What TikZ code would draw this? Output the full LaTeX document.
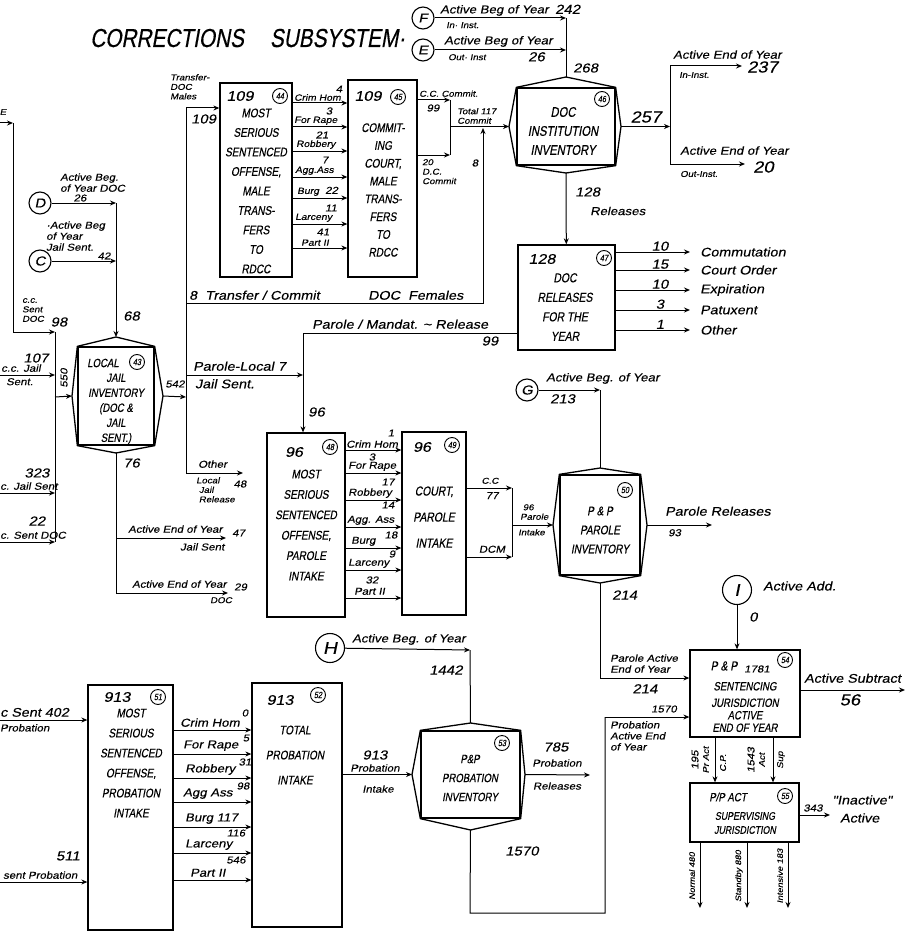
\documentclass[tikz,border=0pt]{standalone}
\usepackage{fontspec}
\setmainfont{Liberation Sans}
\newfontfamily\hand[FakeSlant=0.18,FakeStretch=0.8,FakeBold=0.4]{Liberation Sans}
\newfontfamily\handl[FakeSlant=0.2,FakeStretch=1.15,FakeBold=0.3]{Liberation Sans}
\usetikzlibrary{arrows.meta,fit}
\tikzset{
 ln/.style={line width=1pt},
 arr/.style={line width=1pt,-{Stealth[length=6pt,width=5pt]}},
 bx/.style={draw,line width=1.3pt,inner sep=0pt},
 tag/.style={circle,draw,line width=0.9pt,inner sep=0pt,minimum size=15pt,font=\hand\fontsize{9}{9}\selectfont},
 conn/.style={circle,draw,line width=1.1pt,inner sep=0pt,minimum size=22pt,font=\handl\fontsize{13}{13}\selectfont},
 bigconn/.style={conn,minimum size=29pt,font=\handl\fontsize{17}{17}\selectfont},
 btx/.style={align=center,inner sep=0pt,font=\hand\fontsize{12.5}{19.5}\selectfont},
 slab/.style={inner sep=0pt,align=left,font=\handl\fontsize{8.5}{9.5}\selectfont},
 tlab/.style={inner sep=0pt,font=\handl\fontsize{8}{9}\selectfont},
 qlab/.style={inner sep=0pt,font=\handl\fontsize{9}{10}\selectfont},
 mlab/.style={inner sep=0pt,align=left,font=\handl\fontsize{10}{11}\selectfont},
 lab/.style={inner sep=0pt,align=left,font=\handl\fontsize{11.5}{12.5}\selectfont},
 rlab/.style={inner sep=0pt,font=\handl\fontsize{12.5}{13.5}\selectfont},
 ulab/.style={inner sep=0pt,font=\handl\fontsize{11.5}{12.5}\selectfont},
 snum/.style={inner sep=0pt,font=\handl\fontsize{10}{10}\selectfont},
 num/.style={inner sep=0pt,font=\handl\fontsize{13}{13}\selectfont},
 bnum/.style={inner sep=0pt,font=\handl\fontsize{14}{14}\selectfont},
 hnum/.style={inner sep=0pt,font=\handl\fontsize{16}{16}\selectfont},
}
\newcommand\mybox[5]{\node[bx,fit={(#2,#3)(#4,#5)}] (#1) {};}
\newcommand\invbox[9]{%
 \node[bx,fit={(#2,#3)(#4,#5)}] (#1) {};
 \coordinate (#1-t) at ({(#2+#4)/2},#6);
 \coordinate (#1-b) at ({(#2+#4)/2},#7);
 \coordinate (#1-l) at (#8,{(#3+#5)/2});
 \coordinate (#1-r) at (#9,{(#3+#5)/2});
 \draw[line width=1.3pt,line join=round] (#1.north west) -- (#1-t) -- (#1.north east) -- (#1-r) -- (#1.south east) -- (#1-b) -- (#1.south west) -- (#1-l) -- cycle;}
\begin{document}
\begin{tikzpicture}[x=1pt,y=-1pt]
\useasboundingbox (0,0) rectangle (918,931);
\fill[white] (0,0) rectangle (918,931);

% title
\node[anchor=base west,inner sep=0pt,font=\hand\fontsize{26}{26}\selectfont] (title) at (90,47) {CORRECTIONS\hspace{26pt}SUBSYSTEM\textperiodcentered};

% ---------- F, E and DOC institution inventory (46)
\node[conn] (F) at (423,18) {F};
\node[conn] (E) at (423,50) {E};
\coordinate (jF) at (566,18);
\coordinate (jE) at (566,50);
\draw[arr] (F) -- (jF);
\draw[arr] (E) -- (jE);
\node[lab,anchor=south west] (tF1) at (440,16) {Active Beg of Year};
\node[num,anchor=south west] (tF2) at (555,14) {242};
\node[slab,anchor=north west] (tF3) at (446,22) {In\textperiodcentered\ Inst.};
\node[lab,anchor=south west] (tE1) at (444,47) {Active Beg of Year};
\node[slab,anchor=north west] (tE2) at (448,54) {Out\textperiodcentered\ Inst};
\node[num,anchor=north west] (tE3) at (528,52) {26};

\invbox{h46}{517}{88}{615}{165}{77}{173}{509}{621}
\draw[ln] (jF) -- (h46-t);
\node[num,anchor=west] (t268) at (573,68) {268};
\node[tag] (g46) at (602,99) {46};
\node[btx,font=\hand\fontsize{14}{19}\selectfont] (x46) at (563,131) {DOC\\INSTITUTION\\INVENTORY};

\coordinate (s46) at (670,126.5);
\coordinate (s46a) at (670,66);
\coordinate (s46b) at (670,164);
\coordinate (o237) at (742,66);
\coordinate (o20) at (745,164);
\draw[arr] (h46-r) -- (s46);
\draw[ln] (s46a) -- (s46b);
\draw[arr] (s46a) -- (o237);
\draw[arr] (s46b) -- (o20);
\node[hnum] (t257) at (646,117) {257};
\node[lab,anchor=south west] (t237a) at (673,59) {Active End of Year};
\node[slab,anchor=west] (t237b) at (679,75) {In-Inst.};
\node[hnum,anchor=west] (t237c) at (747,67) {237};
\node[lab,anchor=south west] (t20a) at (680,155) {Active End of Year};
\node[slab,anchor=west] (t20b) at (680,174) {Out-Inst.};
\node[hnum,anchor=west] (t20c) at (753,167) {20};

% ---------- DOC releases (47)
\mybox{b47}{518}{245}{615}{350}
\draw[arr] (h46-b) -- (b47);
\node[num,anchor=west] (t128a) at (575,192) {128};
\node[lab,anchor=west] (t128b) at (590,211) {Releases};
\node[bnum] (n47) at (542,259) {128};
\node[tag] (g47) at (604,258) {47};
\node[btx,font=\hand\fontsize{13}{19.5}\selectfont] (x47) at (565,307) {DOC\\RELEASES\\FOR THE\\YEAR};
\foreach \yy/\nn/\tt [count=\i] in {252/10/Commutation,270/15/Court Order,290/10/Expiration,310/3/Patuxent,330/1/Other}{
  \coordinate (r47-\i) at (690,\yy);
  \draw[arr] (b47.east |- r47-\i) -- (r47-\i);
  \node[num,anchor=south] (n47-\i) at (660,\yy-1) {\nn};
  \node[rlab,anchor=west] (t47-\i) at (700,\yy) {\tt};
}

% ---------- Box 44 and 45
\mybox{b44}{220}{83}{292}{277}
\mybox{b45}{348}{80}{417}{277}
\node[bnum] (n44) at (240,96) {109};
\node[tag] (g44) at (280,96) {44};
\node[btx] (x44) at (256,191) {MOST\\SERIOUS\\SENTENCED\\OFFENSE,\\MALE\\TRANS-\\FERS\\TO\\RDCC};
\node[bnum] (n45) at (368,96) {109};
\node[tag] (g45) at (398,97) {45};
\node[btx,font=\hand\fontsize{12.5}{17.8}\selectfont] (x45) at (383,190) {COMMIT-\\ING\\COURT,\\MALE\\TRANS-\\FERS\\TO\\RDCC};

\foreach \yy [count=\i] in {103,127,151,177,198,224,248}{
  \coordinate (r44-\i) at (0,\yy);
  \draw[arr] (b44.east |- r44-\i) -- (b45.west |- r44-\i);
}
\node[qlab,anchor=south west] (q1) at (294,101) {Crim Hom};
\node[snum] (q1n) at (339,89) {4};
\node[qlab,anchor=south west] (q2) at (294,125) {For Rape};
\node[snum] (q2n) at (329,111) {3};
\node[qlab,anchor=south west] (q3) at (296,149) {Robbery};
\node[snum] (q3n) at (322,135) {21};
\node[qlab,anchor=south west] (q4) at (295,175) {Agg.Ass};
\node[snum] (q4n) at (325,160) {7};
\node[qlab,anchor=south west] (q5) at (297,196) {Burg};
\node[snum,anchor=south west] (q5n) at (325,194) {22};
\node[qlab,anchor=south west] (q6) at (295,222) {Larceny};
\node[snum] (q6n) at (331,208) {11};
\node[qlab,anchor=south west] (q7) at (301,246) {Part II};
\node[snum] (q7n) at (323,232) {41};

% transfer DOC males
\coordinate (t44) at (186,108);
\coordinate (v186b) at (186,473);
\draw[arr] (t44) -- (b44.west |- t44);
\draw[ln] (t44) -- (v186b);
\node[slab,anchor=north west] (tdm) at (170,74) {Transfer-\\DOC\\Males};
\node[num,anchor=west] (t109) at (191,119) {109};

% box 45 outputs
\coordinate (c45a) at (450,100);
\coordinate (c45b) at (450,155);
\coordinate (c45m) at (450,126.5);
\draw[arr] (b45.east |- c45a) -- (c45a);
\draw[arr] (b45.east |- c45b) -- (c45b);
\draw[ln] (c45a) -- (c45b);
\draw[arr] (c45m) -- (h46-l);
\node[slab,anchor=south west] (tcc) at (419,97) {C.C. Commit.};
\node[snum] (t99a) at (433,108) {99};
\node[slab,anchor=north west] (tdc) at (422,159) {20\\D.C.\\Commit};
\node[slab,anchor=south west] (ttot) at (457,124) {Total 117\\Commit};

% females
\coordinate (f1) at (186,303);
\coordinate (f2) at (483,303);
\coordinate (f3) at (483,128);
\draw[arr] (f1) -- (f2) -- (f3);
\node[rlab,anchor=south west] (tfem1) at (189,300) {8 \ Transfer / Commit};
\node[rlab,anchor=south west] (tfem2) at (368,300) {DOC};
\node[rlab,anchor=south west] (tfem3) at (408,300) {Females};
\node[snum] (t8) at (475,163) {8};

% ---------- D, C and local jail inventory (43)
\invbox{h43}{78}{347}{154}{445}{337}{453}{72}{163}
\node[conn] (D) at (40,203) {D};
\node[conn] (C) at (40,261) {C};
\coordinate (dj) at (116,203);
\coordinate (cj) at (116,261);
\draw[arr] (D) -- (dj);
\draw[arr] (C) -- (cj);
\draw[arr] (dj) -- (h43-t);
\node[mlab,anchor=south west] (tD) at (60,192) {Active Beg.\\of Year DOC};
\node[snum] (tD2) at (80,198) {26};
\node[mlab,anchor=south west] (tC) at (46,251) {\textperiodcentered Active Beg\\of Year\\Jail Sent.};
\node[snum] (tC2) at (104,256) {42};
\node[num,anchor=west] (t68) at (123,316) {68};
\node[tag] (g43) at (137,362) {43};
\node[btx,font=\hand\fontsize{12}{15}\selectfont] (x43a) at (103,363) {LOCAL};
\node[btx,font=\hand\fontsize{12}{15}\selectfont] (x43b) at (116,409) {JAIL\\INVENTORY\\(DOC \&\\JAIL\\SENT.)};

% left inputs
\coordinate (tl0) at (0,123);
\coordinate (tl1) at (13,123);
\coordinate (tl2) at (13,332);
\coordinate (v55a) at (55,332);
\coordinate (v55b) at (55,542);
\coordinate (j550) at (55,397);
\draw[arr] (tl0) -- (tl1);
\draw[ln] (tl1) -- (tl2);
\draw[arr] (tl2) -- (v55a);
\draw[ln] (v55a) -- (v55b);
\draw[arr] (j550) -- (h43-l);
\node[slab] (tE0) at (3,112) {E};
\node[slab,anchor=north west] (tcs) at (22,298) {c.c.\\Sent\\DOC};
\node[num] (t98) at (59,322) {98};
\foreach \yy [count=\i] in {375,493,542}{
  \coordinate (in43-\i) at (0,\yy);
  \draw[arr] (in43-\i) -- (in43-\i -| v55a);
}
\node[num] (t107) at (36,358) {107};
\node[mlab,anchor=south west] (t107a) at (1,372) {c.c. Jail};
\node[mlab,anchor=north west] (t107b) at (6,378) {Sent.};
\node[num] (t323) at (37,473) {323};
\node[mlab,anchor=south west] (t323a) at (0,490) {c. Jail Sent};
\node[num] (t22) at (37,521) {22};
\node[mlab,anchor=south west] (t22a) at (0,539) {c. Sent DOC};
\node[snum,rotate=90] (t550) at (64,378) {550};

% jail outputs
\coordinate (j542) at (186,397);
\draw[arr] (h43-r) -- (j542);
\node[snum] (t542) at (175,384) {542};
\coordinate (pl1) at (186,375);
\coordinate (pl2) at (303,375);
\draw[arr] (pl1) -- (pl2);
\node[rlab,anchor=south west] (tpl1) at (193,371) {Parole-Local 7};
\node[rlab,anchor=north west] (tpl2) at (195,379) {Jail Sent.};
\coordinate (oth) at (243,473);
\draw[arr] (v186b) -- (oth);
\node[mlab,anchor=south west] (toth) at (198,468) {Other};
\node[slab,anchor=north west] (toth2) at (196,477) {Local\\\ Jail\\\ Release};
\node[snum] (t48) at (240,484) {48};

\node[num,anchor=west] (t76) at (123,463) {76};
\coordinate (ae1) at (116,538);
\coordinate (ae2) at (116,593);
\coordinate (ae1e) at (226,538);
\coordinate (ae2e) at (228,593);
\draw[ln] (h43-b) -- (ae2);
\draw[arr] (ae1) -- (ae1e);
\draw[arr] (ae2) -- (ae2e);
\node[mlab,anchor=south west] (tae1) at (128,533) {Active End of Year};
\node[snum,anchor=west] (tae1n) at (232,533) {47};
\node[mlab,anchor=north west] (tae1b) at (180,543) {Jail Sent};
\node[mlab,anchor=south west] (tae2) at (132,588) {Active End of Year};
\node[snum,anchor=west] (tae2n) at (234,587) {29};
\node[slab,anchor=north west] (tae2b) at (210,597) {DOC};

% ---------- Parole: boxes 48, 49
\mybox{b48}{267}{433}{345}{617}
\mybox{b49}{402}{432}{466}{615}
\coordinate (pm1) at (303,333);
\draw[ln] (b47.west |- pm1) -- (pm1);
\draw[arr] (pm1) -- (b48.north -| pm1);
\node[rlab,anchor=south west] (tpm) at (312,329) {Parole / Mandat. \textasciitilde\ Release};
\node[num] (t99b) at (490,341) {99};
\node[num,anchor=west] (t96) at (308,412) {96};
\node[bnum] (n48) at (294,452) {96};
\node[tag] (g48) at (330,447) {48};
\node[btx,font=\hand\fontsize{12.5}{20.4}\selectfont] (x48) at (306,525) {MOST\\SERIOUS\\SENTENCED\\OFFENSE,\\PAROLE\\INTAKE};
\node[bnum] (n49) at (422,447) {96};
\node[tag] (g49) at (452,445) {49};
\node[btx,font=\hand\fontsize{13}{26}\selectfont] (x49) at (434,517) {COURT,\\PAROLE\\INTAKE};

\foreach \yy [count=\i] in {450,473,500,527,548,570,598}{
  \coordinate (r48-\i) at (0,\yy);
  \draw[arr] (b48.east |- r48-\i) -- (b49.west |- r48-\i);
}
\node[mlab,anchor=south west] (p1) at (346,448) {Crim Hom};
\node[snum] (p1n) at (391,433) {1};
\node[mlab,anchor=south west] (p2) at (348,471) {For Rape};
\node[snum] (p2n) at (372,457) {3};
\node[mlab,anchor=south west] (p3) at (348,498) {Robbery};
\node[snum] (p3n) at (388,482) {17};
\node[mlab,anchor=south west] (p4) at (347,525) {Agg. Ass};
\node[snum] (p4n) at (388,505) {14};
\node[mlab,anchor=south west] (p5) at (351,546) {Burg};
\node[snum] (p5n) at (391,535) {18};
\node[mlab,anchor=south west] (p6) at (348,568) {Larceny};
\node[snum] (p6n) at (392,554) {9};
\node[mlab,anchor=south west] (p7) at (354,595) {Part II};
\node[snum] (p7n) at (372,580) {32};

\coordinate (c49a) at (512,488);
\coordinate (c49b) at (512,557);
\coordinate (c49m) at (512,525);
\draw[arr] (b49.east |- c49a) -- (c49a);
\draw[arr] (b49.east |- c49b) -- (c49b);
\draw[ln] (c49a) -- (c49b);
\node[slab,anchor=south] (tcc49) at (490,484) {C.C};
\node[snum,anchor=north] (t77) at (492,492) {77};
\node[mlab,anchor=south] (tdcm) at (492,553) {DCM};
\node[slab,anchor=south west] (tpi1) at (520,520) {\ 96\\Parole};
\node[slab,anchor=north west] (tpi2) at (518,529) {Intake};

% ---------- P&P parole inventory (50)
\invbox{h50}{560}{475}{640}{575}{468}{583}{553}{647}
\draw[arr] (c49m) -- (h50-l);
\node[conn] (G) at (527,390) {G};
\coordinate (g50) at (600,390);
\draw[arr] (G) -- (g50);
\draw[ln] (g50) -- (h50-t);
\node[lab,anchor=south west] (tG1) at (546,384) {Active Beg. of Year};
\node[num,anchor=north west] (tG2) at (550,394) {213};
\node[tag] (g50t) at (625,490) {50};
\node[btx,font=\hand\fontsize{12.5}{19}\selectfont] (x50) at (600,530) {P \& P\\PAROLE\\INVENTORY};
\coordinate (pr) at (712,525);
\draw[arr] (h50-r) -- (pr);
\node[rlab,anchor=south west] (tpr) at (665,516) {Parole Releases};
\node[snum,anchor=north west] (tpr2) at (668,529) {93};

% ---------- boxes 54 / 55
\mybox{b54}{690}{650}{800}{737}
\mybox{b55}{690}{783}{799}{842}
\coordinate (pe1) at (600,678);
\draw[ln] (h50-b) -- (pe1);
\draw[arr] (pe1) -- (b54.west |- pe1);
\node[num,anchor=west] (t214a) at (612,595) {214};
\node[mlab,anchor=south west] (tpe) at (610,673) {Parole Active\\End of Year};
\node[num,anchor=north] (t214b) at (645,684) {214};

\node[bigconn] (I) at (737,590) {I};
\draw[arr] (I) -- (b54.north -| I);
\node[rlab,anchor=west] (tI) at (763,586) {Active Add.};
\node[num,anchor=west] (tI0) at (749,617) {0};

\node[btx,font=\hand\fontsize{13}{13}\selectfont] (x54a) at (724,666) {P \& P};
\node[snum] (x54n) at (757,669) {1781};
\node[tag] (g54) at (785,660) {54};
\node[btx,font=\hand\fontsize{12}{12.5}\selectfont] (x54b) at (745,707) {SENTENCING\\[4pt]JURISDICTION\\ACTIVE\\END OF YEAR};
\coordinate (as) at (905,690);
\draw[arr] (b54.east |- as) -- (as);
\node[rlab,anchor=south west] (tas) at (804,683) {Active Subtract};
\node[hnum,anchor=north] (t56) at (850,694) {56};

\coordinate (x715) at (715,0);
\coordinate (x773) at (773,0);
\draw[arr] (b54.south -| x715) -- (b55.north -| x715);
\draw[arr] (b54.south -| x773) -- (b55.north -| x773);
\node[snum,rotate=90] (t195) at (695,760) {195};
\node[slab,rotate=90] (t195b) at (706,760) {Pr Act};
\node[slab,rotate=90] (t195c) at (723,763) {C.P.};
\node[snum,rotate=90] (t1543) at (751,760) {1543};
\node[slab,rotate=90] (t1543b) at (762,760) {Act};
\node[slab,rotate=90] (t1543c) at (781,760) {Sup};

\node[btx,font=\hand\fontsize{12}{12}\selectfont] (x55a) at (728,797) {P/P ACT};
\node[tag] (g55) at (785,796) {55};
\node[btx,font=\hand\fontsize{11}{14}\selectfont] (x55b) at (745,823) {SUPERVISING\\JURISDICTION};
\coordinate (ina) at (830,815);
\draw[arr] (b55.east |- ina) -- (ina);
\node[snum] (t343) at (813,808) {343};
\node[rlab,anchor=west] (tina) at (832,800) {"Inactive"};
\node[rlab,anchor=west] (tina2) at (840,818) {Active};
\foreach \xx [count=\i] in {700,747,788}{
  \coordinate (bo-\i) at (\xx,908);
  \draw[arr] (b55.south -| bo-\i) -- (bo-\i);
}
\node[tlab,rotate=90] (tb1) at (692,876) {Normal 480};
\node[tlab,rotate=90] (tb2) at (739,876) {Standby 880};
\node[tlab,rotate=90] (tb3) at (780,876) {Intensive 183};

% ---------- probation: boxes 51, 52, inventory 53
\mybox{b51}{88}{685}{173}{930}
\mybox{b52}{252}{683}{342}{927}
\node[bnum] (n51) at (117,697) {913};
\node[tag] (g51) at (158,697) {51};
\node[btx,font=\hand\fontsize{12.5}{20}\selectfont] (x51) at (131,763) {MOST\\SERIOUS\\SENTENCED\\OFFENSE,\\PROBATION\\INTAKE};
\node[bnum] (n52) at (280,700) {913};
\node[tag] (g52) at (318,695) {52};
\node[btx,font=\hand\fontsize{12.5}{25}\selectfont] (x52) at (295,755) {TOTAL\\PROBATION\\INTAKE};

\foreach \yy [count=\i] in {730,754,778,802,827,853,880}{
  \coordinate (r51-\i) at (0,\yy);
  \draw[arr] (b51.east |- r51-\i) -- (b52.west |- r51-\i);
}
\node[ulab,anchor=south west] (u1) at (180,727) {Crim Hom};
\node[snum] (u1n) at (245,713) {0};
\node[ulab,anchor=south west] (u2) at (183,751) {For Rape};
\node[snum] (u2n) at (246,738) {5};
\node[ulab,anchor=south west] (u3) at (185,775) {Robbery};
\node[snum] (u3n) at (245,762) {31};
\node[ulab,anchor=south west] (u4) at (183,799) {Agg Ass};
\node[snum] (u4n) at (243,786) {98};
\node[ulab,anchor=south west] (u5) at (185,824) {Burg 117};
\node[ulab,anchor=south west] (u6) at (185,850) {Larceny};
\node[snum] (u6n) at (236,833) {116};
\node[ulab,anchor=south west] (u7) at (190,877) {Part II};
\node[snum] (u7n) at (236,860) {546};

\coordinate (in402) at (0,720);
\coordinate (in511) at (0,882);
\draw[arr] (in402) -- (b51.west |- in402);
\draw[arr] (in511) -- (b51.west |- in511);
\node[rlab,anchor=south west] (t402) at (0,717) {c Sent 402};
\node[mlab,anchor=north west] (t402b) at (0,724) {Probation};
\node[num] (t511) at (68,856) {511};
\node[mlab,anchor=south west] (t511b) at (3,879) {sent Probation};

\invbox{h53}{421}{731}{520}{818}{723}{830}{412}{525}
\node[bigconn] (H) at (330,648) {H};
\coordinate (hj) at (470,650);
\draw[arr] (H) -- (hj);
\draw[ln] (hj) -- (h53-t);
\node[lab,anchor=south west] (tH) at (352,645) {Active Beg. of Year};
\node[num] (t1442) at (446,670) {1442};
\node[tag] (g53) at (502,743) {53};
\node[btx,font=\hand\fontsize{12}{19}\selectfont] (x53) at (470,778) {P\&P\\PROBATION\\INVENTORY};
\draw[arr] (b52.east |- h53-l) -- (h53-l);
\node[num] (t913) at (375,755) {913};
\node[mlab] (t913b) at (375,768) {Probation};
\node[mlab] (t913c) at (378,789) {Intake};
\coordinate (prr) at (590,775);
\draw[arr] (h53-r) -- (prr);
\node[num] (t785) at (556,747) {785};
\node[mlab] (t785b) at (557,763) {Probation};
\node[mlab] (t785c) at (557,786) {Releases};

\coordinate (pb1) at (470,913);
\coordinate (pb2) at (605,913);
\coordinate (pb3) at (605,717);
\draw[ln] (h53-b) -- (pb1) -- (pb2) -- (pb3);
\draw[arr] (pb3) -- (b54.west |- pb3);
\node[num] (t1570) at (522,851) {1570};
\node[snum] (t1570b) at (664,709) {1570};
\node[mlab,anchor=north west] (tpae) at (610,721) {Probation\\Active End\\of Year};
\end{tikzpicture}
\end{document}
